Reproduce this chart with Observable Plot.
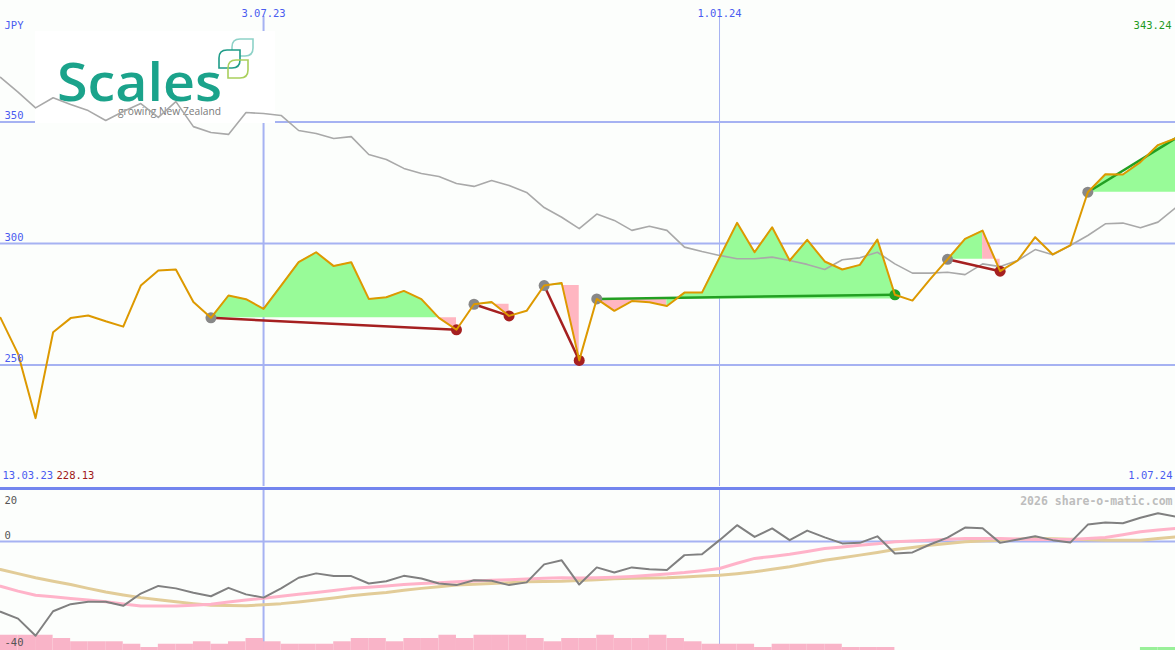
<!DOCTYPE html>
<html><head><meta charset="utf-8">
<script src="https://cdn.jsdelivr.net/npm/d3@7"></script>
<script src="https://cdn.jsdelivr.net/npm/@observablehq/plot@0.6"></script>
<style>
html,body{margin:0;padding:0;background:#fcfefc;}
#chart{width:1175px;height:650px;overflow:hidden;background:#fcfefc;}
#chart svg{display:block;}
</style></head><body><div id="chart"></div>
<script>
// ---- data ----
const firstWeek = "2023-03-20", lastWeek = "2024-07-01";
const price = [269.4,254.6,228.13,263.5,269.3,270.4,268.0,265.8,282.7,288.9,
 289.3,275.9,269.4,278.6,277.1,273.1,282.7,292.3,296.4,290.7,
 292.3,277.2,277.9,280.5,277.1,269.4,264.5,275.0,275.9,270.2,
 272.3,282.7,283.7,251.9,277.2,272.3,276.3,275.8,274.3,279.8,
 279.8,294.2,308.5,296.4,306.7,293.0,301.5,292.6,289.3,291.2,
 301.6,278.9,276.5,285.2,293.5,301.9,305.3,288.6,293.0,302.6,
 295.5,299.2,321.1,328.5,328.4,333.5,340.5,343.24];
const benchmark = [368.4,362.3,355.8,360.0,357.2,354.7,350.6,354.3,357.6,351.9,
 358.4,348.1,345.7,344.9,353.9,353.5,352.7,346.5,345.3,343.2,
 344.0,336.6,334.6,330.9,328.8,327.6,324.7,323.5,325.9,323.9,
 321.0,314.8,310.8,306.1,312.1,309.5,305.4,307.1,305.4,298.5,
 296.7,295.1,293.7,293.7,294.4,293.0,291.4,289.3,293.3,294.1,
 296.4,291.6,287.8,287.8,288.2,287.2,291.6,290.5,293.0,297.5,
 295.4,299.2,303.3,308.1,308.4,306.5,308.8,314.7];
const momentum = [-25.8,-28.3,-34.6,-25.6,-23.0,-22.1,-22.1,-23.6,-19.1,-16.3,
 -17.2,-18.8,-20.1,-17.0,-19.4,-20.6,-17.2,-13.3,-11.7,-12.7,
 -12.7,-15.4,-14.6,-12.6,-13.6,-15.4,-16.0,-14.2,-14.4,-16.0,
 -15.0,-8.4,-6.9,-15.8,-9.5,-11.4,-9.5,-10.2,-10.5,-5.0,
 -4.7,0.5,6.0,1.7,4.8,0.5,4.0,1.5,-0.7,-0.5,
 1.9,-4.4,-4.0,-1.1,1.4,5.1,4.9,-0.5,0.7,1.9,
 0.5,-0.4,6.2,7.0,6.7,8.7,10.4,9.1];
const momentumFast = [-16.4,-18.2,-19.7,-20.3,-20.9,-21.5,-22.1,-22.9,-23.7,-23.7,
 -23.7,-23.4,-23.0,-22.2,-21.5,-20.8,-20.1,-19.4,-18.7,-18.0,
 -17.2,-16.8,-16.3,-15.8,-15.4,-15.1,-14.8,-14.5,-14.2,-14.0,
 -13.8,-13.5,-13.3,-13.4,-13.3,-13.1,-12.8,-12.4,-11.9,-11.4,
 -10.7,-9.9,-8.0,-6.2,-5.5,-4.7,-3.7,-2.6,-2.0,-1.4,
 -0.8,-0.1,0.2,0.5,0.8,1.1,1.1,1.1,0.9,0.7,
 0.7,0.7,1.1,1.5,2.5,3.6,4.2,4.8];
const momentumSlow = [-10.3,-11.8,-13.3,-14.6,-15.8,-17.2,-18.5,-19.6,-20.6,-21.4,
 -22.1,-22.8,-23.4,-23.5,-23.6,-23.2,-22.8,-22.2,-21.5,-20.7,
 -19.9,-19.3,-18.7,-17.9,-17.2,-16.6,-16.0,-15.7,-15.4,-15.1,
 -14.8,-14.7,-14.6,-14.3,-14.0,-13.7,-13.5,-13.4,-13.3,-13.0,
 -12.7,-12.4,-11.8,-11.1,-10.2,-9.3,-8.1,-6.9,-6.0,-5.0,
 -4.0,-2.9,-2.2,-1.4,-0.7,-0.1,0.2,0.5,0.8,1.1,
 1.0,0.8,0.6,0.5,0.5,0.5,1.1,1.7];
const flow = [-5.6,-5.6,-5.6,-4.4,-3.2,-3.2,-3.2,-2.3,-1.1,-2.3,
 -2.3,-3.2,-2.3,-3.2,-4.4,-3.2,-2.3,-2.3,-2.3,-3.2,
 -4.4,-4.4,-3.2,-4.4,-4.4,-5.6,-4.4,-5.6,-5.6,-5.6,
 -4.4,-3.2,-4.4,-4.4,-5.6,-4.4,-4.4,-5.6,-4.4,-3.2,
 -2.3,-2.3,-2.3,-1.1,-2.3,-2.3,-2.3,-2.3,-1.1,-1.1,
 -1.1,0,0,0,0,0,0,0,0,0,
 0,0,0,0,0,1.1,1.1];
const tradeOpen  = ["2023-06-12","2023-09-25","2023-10-23","2023-11-13","2024-04-01","2024-05-27"];
const tradeClose = ["2023-09-18","2023-10-09","2023-11-06","2024-03-11","2024-04-22", null];
const priceTicks = [350, 300, 250];
const dateTicks = ["2023-07-03", "2024-01-01"];
const dateTickLabels = ["3.07.23", "1.01.24"];
const oscZero = 0, oscBottom = -40;
const oscTopLabel = "20";
const currency = "JPY";
const startLabel = "13.03.23", lowLabel = "228.13";
const endLabel = "1.07.24", lastLabel = "343.24";
const credit = "2026 share-o-matic.com";

// ---- derived ----
const D = s => new Date(s + "T00:00:00Z");
const weeks = d3.utcMonday.range(D(firstWeek), d3.utcDay.offset(D(lastWeek), 1));
const idx = s => weeks.findIndex(d => +d === +D(s));
const rows = weeks.map((d, i) => ({date: d, price: price[i], bench: benchmark[i],
  mom: momentum[i], fast: momentumFast[i], slow: momentumSlow[i]}));
const trades = tradeOpen.map((s, k) => {
  const a = idx(s), open = tradeClose[k] == null;
  const b = open ? weeks.length - 1 : idx(tradeClose[k]);
  return {a, b, open, level: price[a], gain: price[b] >= price[a]};
});
const GREEN_FILL = "#98fb98", PINK_FILL = "#ffb6c1";
const fillRows = [];
let run = 0;
trades.forEach(t => {
  let prev = null;
  for (let i = t.a; i < t.b; i++) {
    const c = price[i + 1] >= t.level ? GREEN_FILL : PINK_FILL;
    if (c !== prev) { run++; fillRows.push({date: weeks[i], lo: t.level, hi: price[i], z: run, c}); prev = c; }
    fillRows.push({date: weeks[i + 1], lo: t.level, hi: price[i + 1], z: run, c});
  }
});
const bars = flow.map((v, i) => ({x1: weeks[i], x2: weeks[i + 1], v}));

const BLUE_TXT = "#4a5cf0", GRID = "#a6b2f2", FONT = "DejaVu Sans Mono";
const W = 1175;

function logo() {
  const ns = "http://www.w3.org/2000/svg";
  const g = document.createElementNS(ns, "g");
  g.setAttribute("text-anchor", "start");
  const el = (tag, attrs, text) => { const e = document.createElementNS(ns, tag);
    for (const k in attrs) e.setAttribute(k, attrs[k]); if (text) e.textContent = text; g.appendChild(e); return e; };
  el("rect", {x: 35, y: 31, width: 240, height: 92, fill: "#ffffff"});
  const leaf = (x0, y0, w, h, r, col, fill) => el("path", {
    d: `M${x0 + r},${y0} L${x0 + w},${y0} L${x0 + w},${y0 + h - r} Q${x0 + w},${y0 + h} ${x0 + w - r},${y0 + h} L${x0},${y0 + h} L${x0},${y0 + r} Q${x0},${y0} ${x0 + r},${y0} Z`,
    fill: fill, stroke: col, "stroke-width": 1.6});
  leaf(232, 39, 21, 17, 8, "#8ed2c8", "none");
  leaf(219, 50, 21, 18, 8, "#1f9c88", "#ffffff");
  leaf(228, 60, 20, 18, 8, "#a9cf5c", "none");
  el("text", {x: 57, y: 101, "text-anchor": "start", "font-family": "Open Sans, Lato, sans-serif", "font-weight": 600,
    "font-size": 52, fill: "#1ba38b", textLength: 165, lengthAdjust: "spacingAndGlyphs"}, "Scales");
  el("text", {x: 118, y: 115, "text-anchor": "start", "font-family": "Open Sans, sans-serif", "font-size": 11.5,
    fill: "#7a7a7a", textLength: 103, lengthAdjust: "spacingAndGlyphs"}, "growing New Zealand");
  return g;
}

const topChart = Plot.plot({
  width: W, height: 486, margin: 0,
  style: {background: "transparent", fontFamily: FONT, fontSize: "10.5px"},
  x: {type: "utc", domain: [weeks[0], weeks[weeks.length - 1]], axis: null},
  y: {domain: [200, 400], axis: null},
  color: {type: "identity"},
  marks: [
    Plot.ruleY(priceTicks, {stroke: GRID, strokeWidth: 2}),
    Plot.ruleX(dateTicks.slice(0, 1), {x: D, stroke: GRID, strokeWidth: 2, insetTop: 16}),
    Plot.ruleX(dateTicks.slice(1), {x: D, stroke: GRID, strokeWidth: 1, insetTop: 16}),
    logo,
    Plot.areaY(fillRows, {x: "date", y1: "lo", y2: "hi", z: "z", fill: "c"}),
    Plot.line(rows, {x: "date", y: "bench", stroke: "#a9a9a9", strokeWidth: 1.6}),
    Plot.link(trades, {x1: t => weeks[t.a], y1: t => price[t.a], x2: t => weeks[t.b], y2: t => price[t.b],
      stroke: t => t.gain ? "#22a022" : "#a52020", strokeWidth: 2.5}),
    Plot.dot(trades, {x: t => weeks[t.a], y: t => price[t.a], r: 5.5, fill: "#888888"}),
    Plot.dot(trades.filter(t => !t.open), {x: t => weeks[t.b], y: t => price[t.b], r: 5.5,
      fill: t => t.gain ? "#22a022" : "#a52020"}),
    Plot.line(rows, {x: "date", y: "price", stroke: "#dd9900", strokeWidth: 2}),
    Plot.text(priceTicks, {y: d => d, text: d => String(d), frameAnchor: "left", textAnchor: "start",
      dx: 4, dy: -6, fill: BLUE_TXT}),
    Plot.text(dateTicks, {x: D, text: (d, i) => dateTickLabels[i], frameAnchor: "top", dy: 9, fill: BLUE_TXT}),
    Plot.text([currency], {frameAnchor: "top-left", textAnchor: "start", dx: 4, dy: 21, fill: BLUE_TXT}),
    Plot.text([lastLabel], {frameAnchor: "top-right", textAnchor: "end", dx: -4, dy: 21, fill: "#1f9a1f"}),
    Plot.text([startLabel], {frameAnchor: "bottom-left", textAnchor: "start", dx: 2, dy: -8, fill: BLUE_TXT}),
    Plot.text([lowLabel], {frameAnchor: "bottom-left", textAnchor: "start", dx: 56, dy: -8, fill: "#a01818"}),
    Plot.text([endLabel], {frameAnchor: "bottom-right", textAnchor: "end", dx: -3, dy: -8, fill: BLUE_TXT})
  ]
});

const bottomChart = Plot.plot({
  width: W, height: 164, marginTop: 2, marginBottom: 0, marginLeft: 0, marginRight: 0,
  style: {background: "transparent", fontFamily: FONT, fontSize: "10.5px"},
  x: {type: "utc", domain: [weeks[0], weeks[weeks.length - 1]], axis: null},
  y: {domain: [-40, 19.45], axis: null},
  color: {type: "identity"},
  marks: [
    Plot.ruleX(dateTicks.slice(0, 1), {x: D, stroke: GRID, strokeWidth: 2}),
    Plot.ruleX(dateTicks.slice(1), {x: D, stroke: GRID, strokeWidth: 1}),
    Plot.ruleY([oscZero], {stroke: GRID, strokeWidth: 2}),
    Plot.rect(bars, {x1: "x1", x2: "x2", y1: oscBottom, y2: d => oscBottom + Math.abs(d.v),
      fill: d => d.v > 0 ? "#99f099" : "#f9b4c8"}),
    Plot.line(rows, {x: "date", y: "slow", stroke: "#e2cc98", strokeWidth: 3}),
    Plot.line(rows, {x: "date", y: "fast", stroke: "#ffb3c9", strokeWidth: 3}),
    Plot.line(rows, {x: "date", y: "mom", stroke: "#808080", strokeWidth: 2}),
    Plot.frame({anchor: "top", stroke: "#7385ee", strokeWidth: 3}),
    Plot.text([oscZero], {y: d => d, text: d => String(d), frameAnchor: "left", textAnchor: "start",
      dx: 4, dy: -6, fill: "#555555"}),
    Plot.text([oscBottom], {y: d => d, text: d => String(d), frameAnchor: "left", textAnchor: "start",
      dx: 4, dy: -8, fill: "#555555"}),
    Plot.text([oscTopLabel], {frameAnchor: "top-left", textAnchor: "start", dx: 4, dy: 8, fill: "#555555"}),
    Plot.text([credit], {frameAnchor: "top-right", textAnchor: "end", dx: -3, dy: 8, fill: "#bdbdbd",
      fontWeight: "bold", fontSize: 11.5})
  ]
});

const chart = document.getElementById("chart");
chart.appendChild(topChart);
chart.appendChild(bottomChart);
</script>
</body></html>
